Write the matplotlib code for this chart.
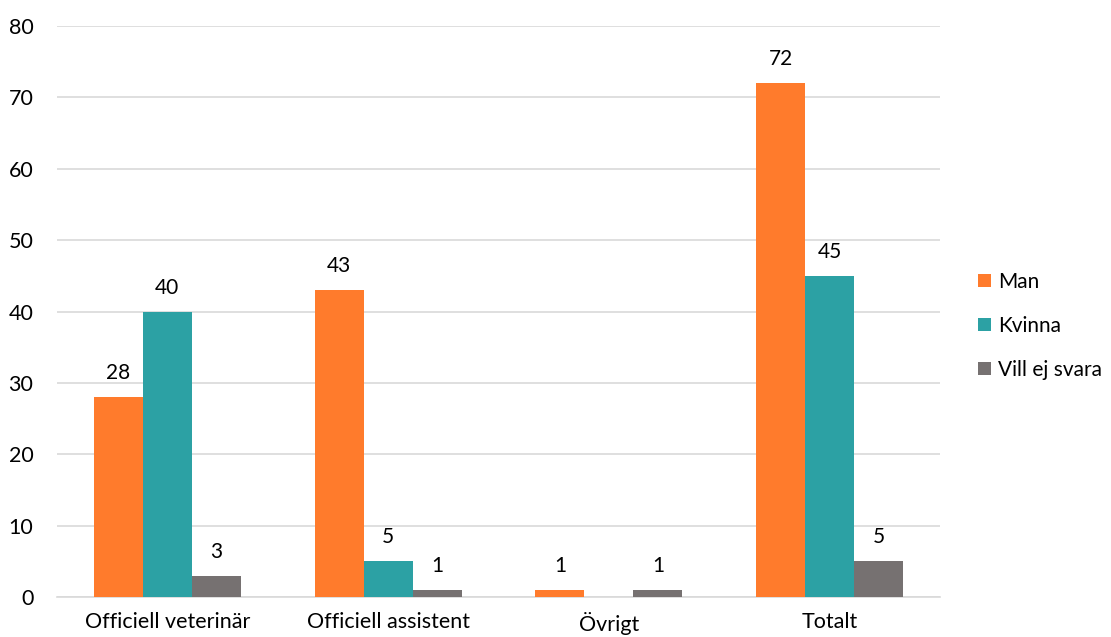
import numpy as np
import matplotlib
matplotlib.use('Agg')
import matplotlib.pyplot as plt

categories = ['Officiell veterinär', 'Officiell assistent', 'Övrigt', 'Totalt']
series_names = ['Man', 'Kvinna', 'Vill ej svara']
man = [28, 43, 1, 72]
kvinna = [40, 5, 0, 45]
vill_ej = [3, 1, 1, 5]
colors = ['#FF7B2C', '#2CA1A4', '#767171']

plt.rcParams['font.family'] = ['Lato', 'DejaVu Sans']

fig = plt.figure(figsize=(11.11, 6.37), dpi=100)
ax = fig.add_axes([57/1111, 1 - 597/637, (940 - 57)/1111, (597 - 26)/637])

x = np.arange(len(categories))
w = 0.222
handles = []
for i, (vals, name) in enumerate(zip([man, kvinna, vill_ej], series_names)):
    pos = x + (i - 1) * w
    b = ax.bar(pos, vals, w, color=colors[i], label=name, zorder=3)
    handles.append(b)
    for px, v in zip(pos, vals):
        if v == 0:
            continue
        ax.annotate(str(v), (px, v), xytext=(0, 10), textcoords='offset points',
                    ha='center', va='bottom', fontsize=15, color='#000000')

ax.set_xlim(-0.5, len(categories) - 0.5)
ax.set_ylim(0, 80)
ax.set_yticks(range(0, 81, 10))
ax.set_xticks(x)
ax.set_xticklabels(categories, fontsize=15.5)
ax.tick_params(axis='y', labelsize=15.5, length=0, pad=17)
ax.tick_params(axis='x', length=0, pad=11)
ax.yaxis.grid(True, color='#D9D9D9', linewidth=1.2, zorder=0)
for s in ['top', 'right', 'left']:
    ax.spines[s].set_visible(False)
ax.spines['bottom'].set_color('#D9D9D9')
ax.spines['bottom'].set_linewidth(1.2)

fig.legend(handles=handles, labels=series_names, loc='center left',
           bbox_to_anchor=(978/1111, 1 - 326/637), frameon=False, fontsize=15,
           handlelength=0.6, handleheight=0.6, handletextpad=0.35, labelspacing=1.15,
           borderaxespad=0, borderpad=0)

fig.savefig('out.png', dpi=100)
